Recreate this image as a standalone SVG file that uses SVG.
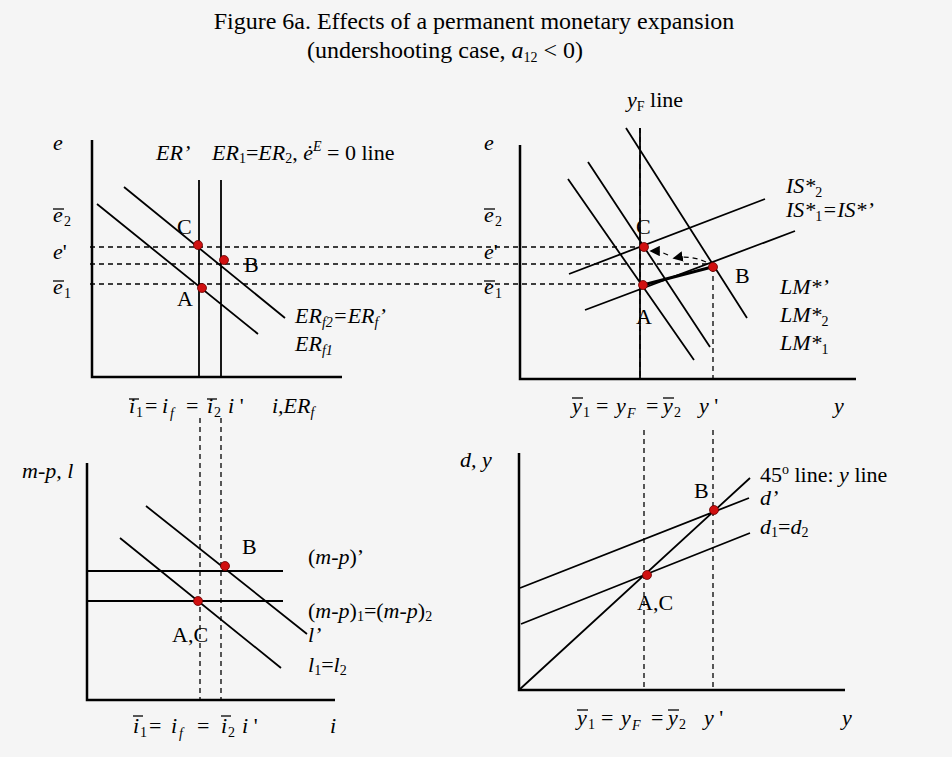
<svg xmlns="http://www.w3.org/2000/svg" width="952" height="757" viewBox="0 0 952 757">
<style>
text{font-family:"Liberation Serif","Times New Roman",serif;font-size:22px;fill:#000}
.t{font-size:24px}
.i{font-style:italic}
.s{font-size:14px}
.ax{stroke:#000;stroke-width:2.5;fill:none}
.ln{stroke:#000;stroke-width:1.8;fill:none}
.ds{stroke:#000;stroke-width:1.3;stroke-dasharray:5,4;fill:none}
.pt{fill:#d01010;stroke:#600;stroke-width:0.8}
.ob{stroke:#000;stroke-width:1.3}
</style>
<defs><marker id="ah" markerWidth="8" markerHeight="8" refX="6" refY="4" orient="auto"><path d="M0,0 L8,4 L0,8 z" fill="#000"/></marker></defs>
<rect width="952" height="757" fill="#f5f5f5"/>
<g id="title">
<text class="t" x="474" y="29" text-anchor="middle">Figure 6a.  Effects of a permanent monetary expansion</text>
<text class="t" x="445" y="58" text-anchor="middle">(undershooting case, <tspan class="i">a</tspan><tspan class="s" dy="4">12</tspan><tspan dy="-4"> &lt; 0)</tspan></text>
</g>
<g id="connectors">
<path class="ds" d="M90,247 H643 M90,264 H712 M90,284 H643"/>
<path class="ds" d="M200,418 V700 M221,418 V700"/>
<path class="ds" d="M640,128 V379 M713,267 V379 M644,430 V690 M713,430 V690"/>
</g>
<g id="panel-tl">
<path class="ax" d="M92,140 V377 H342"/>
<path class="ln" d="M199,180 V377 M221,180 V377 M97,204 L258,334 M124,187 L285,318"/>
<circle class="pt" cx="198" cy="245" r="4.5"/><circle class="pt" cx="224" cy="260" r="4.5"/><circle class="pt" cx="202" cy="288" r="4.5"/>
<text x="177" y="234">C</text><text x="244" y="272">B</text><text x="177" y="306">A</text>
<text class="i" x="53" y="150">e</text>
<text class="i" x="53" y="222">e</text><text class="s" x="64" y="226">2</text><line class="ob" x1="53" y1="209" x2="64" y2="209"/>
<text x="53" y="259"><tspan class="i">e</tspan>'</text>
<text class="i" x="53" y="294">e</text><text class="s" x="64" y="298">1</text><line class="ob" x1="53" y1="281" x2="64" y2="281"/>
<text class="i" x="156" y="160">ER’</text>
<text x="212" y="160"><tspan class="i">ER</tspan><tspan class="s" dy="3">1</tspan><tspan dy="-3">=</tspan><tspan class="i">ER</tspan><tspan class="s" dy="3">2</tspan><tspan dy="-3">, </tspan><tspan class="i">ė</tspan><tspan class="i s" dy="-9">E</tspan><tspan dy="9"> = 0  line</tspan></text>
<text class="i" x="295" y="323">ER<tspan class="s" dy="4">f2</tspan><tspan dy="-4">=ER</tspan><tspan class="s" dy="4">f</tspan><tspan dy="-4">’</tspan></text>
<text class="i" x="295" y="351">ER<tspan class="s" dy="4">f1</tspan></text>
<text class="i" x="129" y="413">i</text><text class="s" x="136" y="417">1</text><line class="ob" x1="129" y1="399" x2="139" y2="399"/>
<text x="145" y="413">=</text>
<text class="i" x="162" y="413">i</text><text class="i s" x="170" y="418">f</text>
<text x="186" y="413">=</text>
<text class="i" x="207" y="413">i</text><text class="s" x="214" y="417">2</text><line class="ob" x1="207" y1="399" x2="217" y2="399"/>
<text x="228" y="413"><tspan class="i">i</tspan> '</text>
<text class="i" x="272" y="413">i,ER<tspan class="s" dy="4">f</tspan></text>
</g>
<g id="panel-tr">
<path class="ax" d="M520,145 V379 H856"/>
<path class="ln" d="M640,128 V379 M568,179 L694,360 M588,162 L710,347 M626,128 L747,318 M569,274 L765,199 M585,310 L795,231"/>
<path d="M643,285 L712,267" stroke="#000" stroke-width="3.2"/>
<path d="M706,262 Q690,255 675,258" class="ds" marker-end="url(#ah)"/>
<path d="M668,255 Q660,251 652,251" class="ds" marker-end="url(#ah)"/>
<circle class="pt" cx="644" cy="247" r="4.5"/><circle class="pt" cx="643" cy="285" r="4.5"/><circle class="pt" cx="713" cy="267" r="4.5"/>
<text x="636" y="234">C</text><text x="735" y="283">B</text><text x="636" y="324">A</text>
<text x="627" y="107"><tspan class="i">y</tspan><tspan class="s" dy="4">F</tspan><tspan dy="-4"> line</tspan></text>
<text class="i" x="484" y="150">e</text>
<text class="i" x="484" y="222">e</text><text class="s" x="495" y="226">2</text><line class="ob" x1="484" y1="209" x2="495" y2="209"/>
<text x="484" y="259"><tspan class="i">e</tspan>'</text>
<text class="i" x="484" y="294">e</text><text class="s" x="495" y="298">1</text><line class="ob" x1="484" y1="281" x2="495" y2="281"/>
<text class="i" x="786" y="193">IS*<tspan class="s" dy="4" style="font-style:normal">2</tspan></text>
<text class="i" x="786" y="217">IS*<tspan class="s" dy="4" style="font-style:normal">1</tspan><tspan dy="-4">=IS*’</tspan></text>
<text class="i" x="780" y="294">LM*’</text>
<text class="i" x="780" y="322">LM*<tspan class="s" dy="4" style="font-style:normal">2</tspan></text>
<text class="i" x="780" y="350">LM*<tspan class="s" dy="4" style="font-style:normal">1</tspan></text>
<text class="i" x="572" y="413">y</text><text class="s" x="583" y="417">1</text><line class="ob" x1="572" y1="398" x2="583" y2="398"/>
<text x="596" y="413">=</text>
<text class="i" x="616" y="413">y</text><text class="i s" x="627" y="418">F</text>
<text x="646" y="413">=</text>
<text class="i" x="663" y="413">y</text><text class="s" x="674" y="417">2</text><line class="ob" x1="663" y1="398" x2="674" y2="398"/>
<text x="699" y="413"><tspan class="i">y</tspan> '</text>
<text class="i" x="834" y="413">y</text>
</g>
<g id="panel-bl">
<path class="ax" d="M87,463 V700 H335"/>
<path class="ln" d="M87,571 H283 M87,601 H283 M120,538 L281,668 M146,506 L307,634"/>
<circle class="pt" cx="225" cy="566" r="4.5"/><circle class="pt" cx="198" cy="601" r="4.5"/>
<text x="242" y="554">B</text><text x="172" y="642">A,C</text>
<text class="i" x="22" y="478">m-p, l</text>
<text x="308" y="564">(<tspan class="i">m-p</tspan>)’</text>
<text x="308" y="618">(<tspan class="i">m-p</tspan>)<tspan class="s" dy="3">1</tspan><tspan dy="-3">=(</tspan><tspan class="i">m-p</tspan>)<tspan class="s" dy="3">2</tspan></text>
<text class="i" x="308" y="642">l’</text>
<text x="308" y="672"><tspan class="i">l</tspan><tspan class="s" dy="3">1</tspan><tspan dy="-3">=</tspan><tspan class="i">l</tspan><tspan class="s" dy="3">2</tspan></text>
<text class="i" x="133" y="733">i</text><text class="s" x="140" y="737">1</text><line class="ob" x1="133" y1="716" x2="143" y2="716"/>
<text x="149" y="733">=</text>
<text class="i" x="171" y="733">i</text><text class="i s" x="179" y="738">f</text>
<text x="197" y="733">=</text>
<text class="i" x="221" y="733">i</text><text class="s" x="228" y="737">2</text><line class="ob" x1="221" y1="716" x2="231" y2="716"/>
<text x="242" y="733"><tspan class="i">i</tspan> '</text>
<text class="i" x="330" y="733">i</text>
</g>
<g id="panel-br">
<path class="ax" d="M519,453 V690 H845"/>
<path class="ln" d="M519,690 L750,478 M520,588 L749,498 M521,624 L750,533"/>
<circle class="pt" cx="714" cy="510" r="4.5"/><circle class="pt" cx="647" cy="575" r="4.5"/>
<text x="694" y="498">B</text><text x="637" y="610">A,C</text>
<text class="i" x="460" y="467">d, y</text>
<text x="760" y="482">45<tspan class="s" dy="-8">o</tspan><tspan dy="8"> line: </tspan><tspan class="i">y</tspan> line</text>
<text class="i" x="760" y="505">d’</text>
<text x="760" y="534"><tspan class="i">d</tspan><tspan class="s" dy="3">1</tspan><tspan dy="-3">=</tspan><tspan class="i">d</tspan><tspan class="s" dy="3">2</tspan></text>
<text class="i" x="577" y="725">y</text><text class="s" x="588" y="729">1</text><line class="ob" x1="577" y1="710" x2="588" y2="710"/>
<text x="601" y="725">=</text>
<text class="i" x="621" y="725">y</text><text class="i s" x="632" y="730">F</text>
<text x="651" y="725">=</text>
<text class="i" x="668" y="725">y</text><text class="s" x="679" y="729">2</text><line class="ob" x1="668" y1="710" x2="679" y2="710"/>
<text x="704" y="725"><tspan class="i">y</tspan> '</text>
<text class="i" x="842" y="725">y</text>
</g>
</svg>
